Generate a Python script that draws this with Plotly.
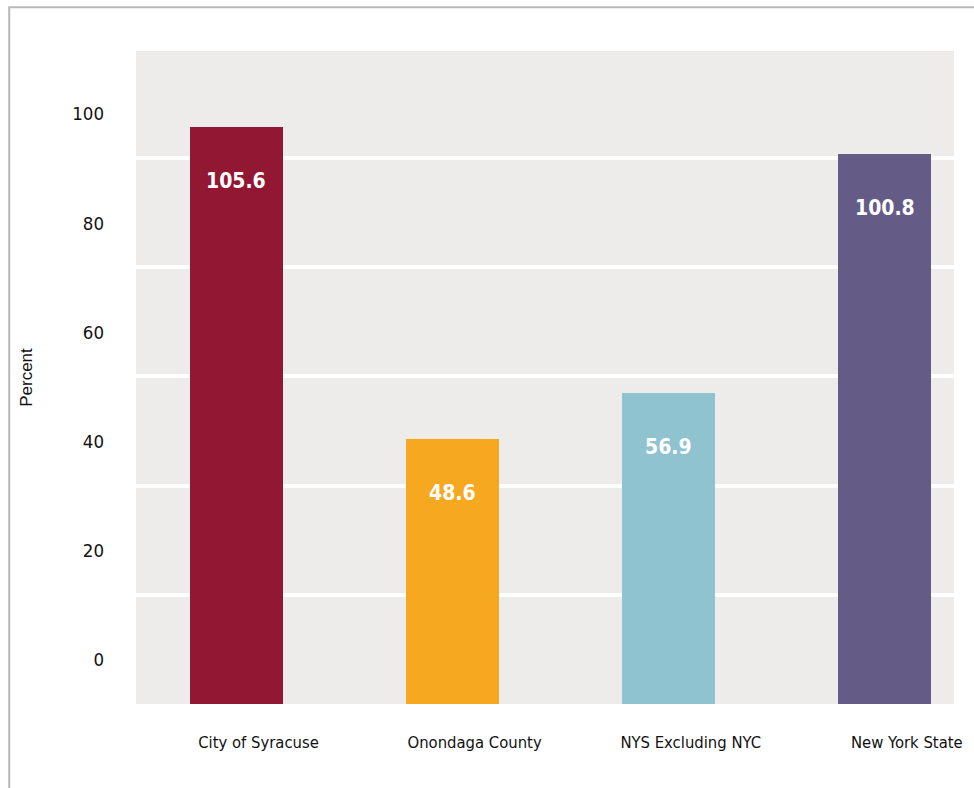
import plotly.graph_objects as go

# Chart data
categories = ["City of Syracuse", "Onondaga County", "NYS Excluding NYC", "New York State"]
values = [105.6, 48.6, 56.9, 100.8]
bar_colors = ["#911733", "#F5A820", "#8EC3CF", "#645C86"]
y_ticks = [0, 20, 40, 60, 80, 100]
y_tick_labels = ["0", "20", "40", "60", "80", "100"]

PLOT_BG = "#EDECEA"
NARROW = "DejaVu Sans Condensed, Liberation Sans Narrow, Roboto Condensed, Roboto, sans-serif"

fig = go.Figure()
fig.add_trace(
    go.Bar(
        x=categories,
        y=values,
        marker=dict(color=bar_colors, line=dict(width=0)),
        width=0.43,
        hoverinfo="x+y",
    )
)

# Value labels placed inside each bar, a little below its top
for cat, val in zip(categories, values):
    fig.add_annotation(
        x=cat,
        y=val,
        text=f"<b>{val:.1f}</b>",
        showarrow=False,
        yshift=-54,
        font=dict(family=NARROW, size=21, color="white"),
    )

# Light grey frame around the figure
fig.add_shape(
    type="rect",
    xref="paper",
    yref="paper",
    x0=-0.155,
    x1=1.2,
    y0=-0.3,
    y1=1.067,
    line=dict(color="#B8B8B8", width=2),
    fillcolor="rgba(0,0,0,0)",
    layer="below",
)

fig.update_layout(
    width=974,
    height=788,
    margin=dict(l=136, r=20, t=51, b=84),
    paper_bgcolor="white",
    plot_bgcolor=PLOT_BG,
    showlegend=False,
    bargap=0,
)

fig.update_xaxes(
    type="category",
    range=[-0.465, 3.32],
    showgrid=False,
    zeroline=False,
    showline=False,
    ticks="",
    ticklabelstandoff=26,
    ticklabelshift=22,
    tickfont=dict(family=NARROW, size=16.5, color="#111111"),
)

fig.update_yaxes(
    range=[0, 119.6],
    tickvals=y_ticks,
    ticktext=y_tick_labels,
    showgrid=True,
    gridcolor="white",
    gridwidth=4,
    zeroline=False,
    showline=False,
    ticks="",
    ticklabelstandoff=31,
    ticklabelshift=-44,
    tickfont=dict(family=NARROW, size=18.5, color="#111111"),
    title=dict(
        text="Percent",
        standoff=35,
        font=dict(family="Liberation Sans, Arial, sans-serif", size=17, color="#111111"),
    ),
)

fig.write_html("out.html")
